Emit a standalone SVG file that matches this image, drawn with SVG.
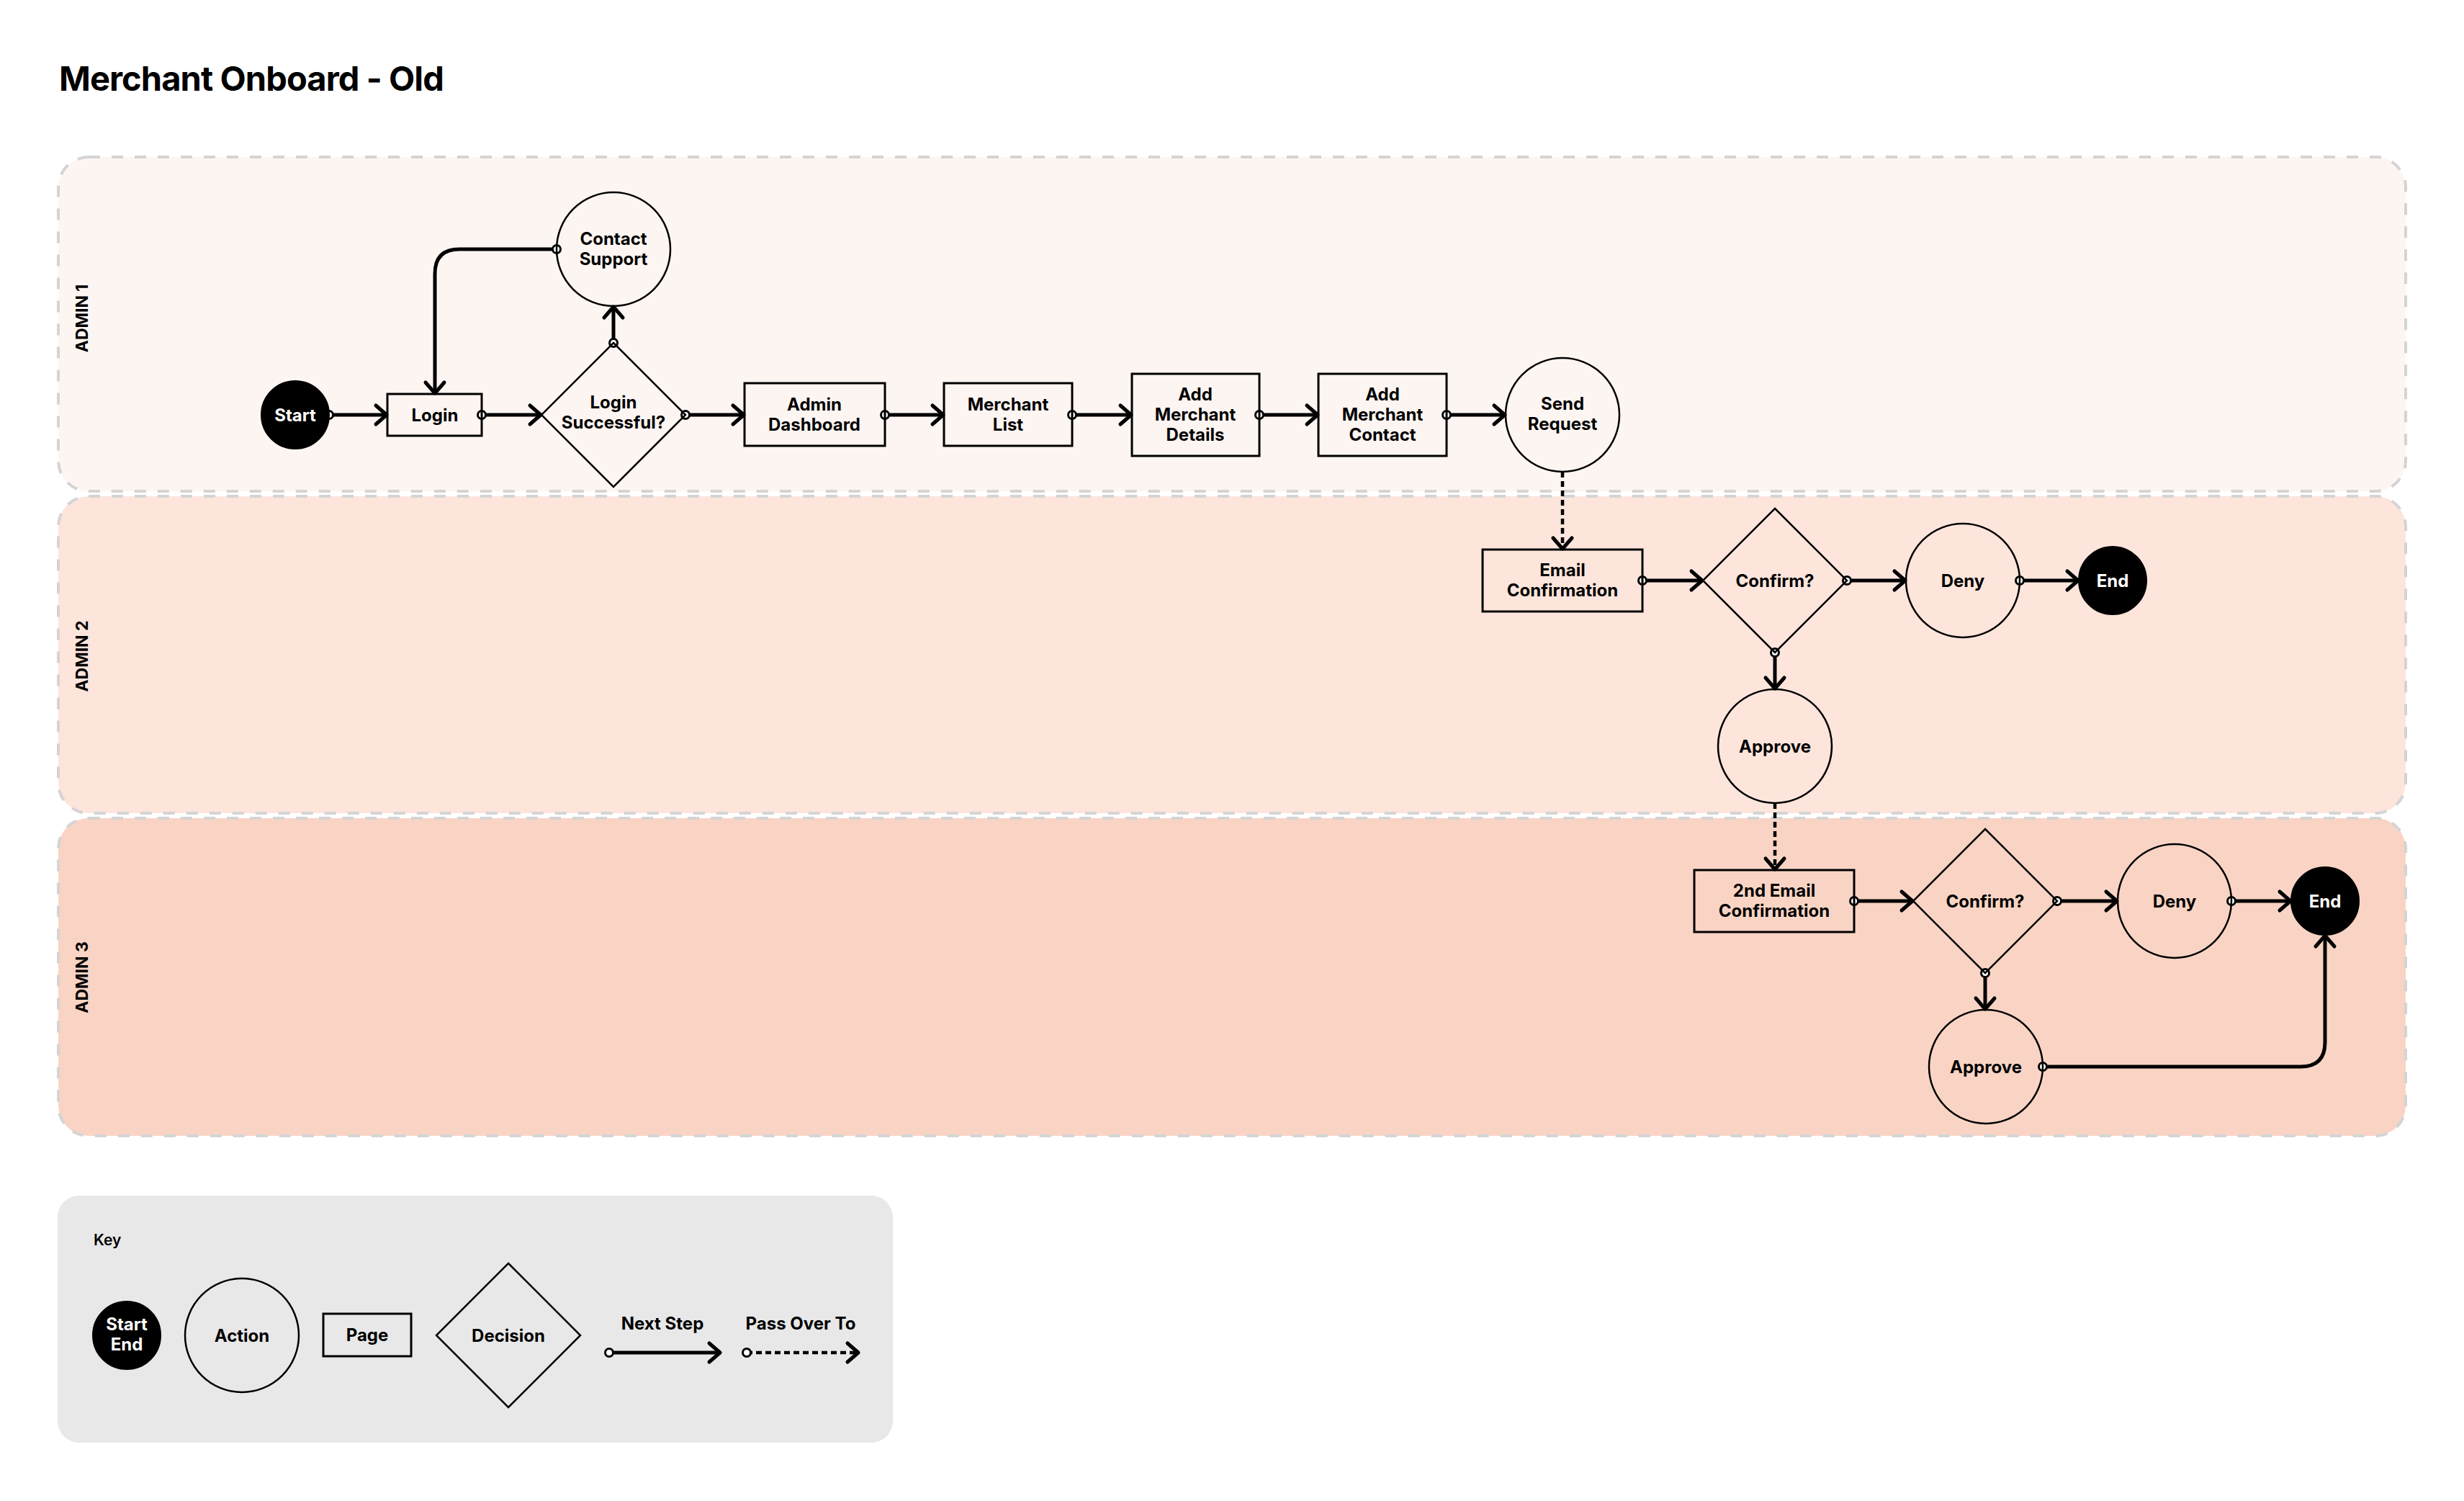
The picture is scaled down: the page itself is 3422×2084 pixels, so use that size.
<svg xmlns="http://www.w3.org/2000/svg" width="3422" height="2084" viewBox="0 0 3422 2084">
<style>
text{font-family:Inter,"Liberation Sans",sans-serif;font-weight:700;fill:#000}
.lbl{font-size:24px;text-anchor:middle}
.wl{fill:#fff}
.lane{stroke:#d4d4d4;stroke-width:4;stroke-dasharray:16 16}
.lanetxt{font-size:23px;text-anchor:middle}
.shape{fill:none;stroke:#000;stroke-width:2.5}
.page{fill:none;stroke:#000;stroke-width:3}
.term{fill:#000;stroke:#000;stroke-width:2}
.edge{fill:none;stroke:#000;stroke-width:5;marker-start:url(#dot);marker-end:url(#arr)}
.pass{fill:none;stroke:#000;stroke-width:4.5;stroke-dasharray:8 5;marker-end:url(#arr)}
.passk{fill:none;stroke:#000;stroke-width:4.5;stroke-dasharray:8 5;marker-start:url(#dot);marker-end:url(#arr)}
</style>
<defs>
<marker id="arr" markerUnits="userSpaceOnUse" viewBox="-30 -20 40 40" markerWidth="40" markerHeight="40" refX="0" refY="0" orient="auto" overflow="visible">
<polyline points="-16,-13 -1,0 -16,13" fill="none" stroke="#000" stroke-width="5" stroke-linecap="round" stroke-linejoin="round" stroke-dasharray="none"/>
</marker>
<marker id="dot" markerUnits="userSpaceOnUse" viewBox="-10 -10 20 20" markerWidth="20" markerHeight="20" refX="0" refY="0" orient="auto" overflow="visible">
<circle cx="0" cy="0" r="5.5" fill="#fff" stroke="#000" stroke-width="3" stroke-dasharray="none"/>
</marker>
</defs>
<rect width="3422" height="2084" fill="#fff"/>
<text x="82" y="126" style="font-size:47px;letter-spacing:-0.9px">Merchant Onboard - Old</text>

<g id="lanes">
<g id="lane-admin1">
<rect class="lane" x="81" y="218" width="3260" height="464" rx="42" fill="#fdf5f2"/>
<text class="lanetxt" transform="translate(122 442) rotate(-90)">ADMIN 1</text>
</g>
<g id="lane-admin2">
<rect class="lane" x="81" y="689" width="3260" height="440" rx="42" fill="#fde5dc"/>
<text class="lanetxt" transform="translate(122 911) rotate(-90)">ADMIN 2</text>
</g>
<g id="lane-admin3">
<rect class="lane" x="81" y="1136" width="3260" height="441" rx="42" fill="#f9d4c4"/>
<text class="lanetxt" transform="translate(122 1357) rotate(-90)">ADMIN 3</text>
</g>
</g>

<g id="connectors">
<path class="edge" d="M457,576 H538"/>
<path class="edge" d="M669,576 H752"/>
<path class="edge" d="M852,476 V425"/>
<path class="edge" d="M773,346 H638 Q604,346 604,380 V547"/>
<path class="edge" d="M952,576 H1034"/>
<path class="edge" d="M1229,576 H1311"/>
<path class="edge" d="M1489,576 H1572"/>
<path class="edge" d="M1749,576 H1831"/>
<path class="edge" d="M2009,576 H2091"/>
<path class="pass" d="M2170,655 V763"/>
<path class="edge" d="M2281,806 H2365"/>
<path class="edge" d="M2565,806 H2647"/>
<path class="edge" d="M2805,806 H2887"/>
<path class="edge" d="M2465,906 V957"/>
<path class="pass" d="M2465,1115 V1208"/>
<path class="edge" d="M2575,1251 H2657"/>
<path class="edge" d="M2857,1251 H2941"/>
<path class="edge" d="M3099,1251 H3182"/>
<path class="edge" d="M2757,1351 V1402"/>
<path class="edge" d="M2837,1481 H3195 Q3229,1481 3229,1447 V1298"/>
</g>

<g id="start">
<circle class="term" cx="410" cy="576" r="47"/>
<text class="lbl wl" x="410" y="585">Start</text>
</g>
<g id="login">
<rect class="page" x="538" y="547" width="131" height="58"/>
<text class="lbl" x="604" y="585">Login</text>
</g>
<g id="login-successful">
<polygon class="shape" points="852,476 952,576 852,676 752,576"/>
<text class="lbl" x="852" y="567">Login</text>
<text class="lbl" x="852" y="595">Successful?</text>
</g>
<g id="contact-support">
<circle class="shape" cx="852" cy="346" r="79"/>
<text class="lbl" x="852" y="340">Contact</text>
<text class="lbl" x="852" y="368">Support</text>
</g>
<g id="admin-dashboard">
<rect class="page" x="1034" y="532" width="195" height="87"/>
<text class="lbl" x="1131" y="570">Admin</text>
<text class="lbl" x="1131" y="598">Dashboard</text>
</g>
<g id="merchant-list">
<rect class="page" x="1311" y="532" width="178" height="87"/>
<text class="lbl" x="1400" y="570">Merchant</text>
<text class="lbl" x="1400" y="598">List</text>
</g>
<g id="add-merchant-details">
<rect class="page" x="1572" y="519" width="177" height="114"/>
<text class="lbl" x="1660" y="556">Add</text>
<text class="lbl" x="1660" y="584">Merchant</text>
<text class="lbl" x="1660" y="612">Details</text>
</g>
<g id="add-merchant-contact">
<rect class="page" x="1831" y="519" width="178" height="114"/>
<text class="lbl" x="1920" y="556">Add</text>
<text class="lbl" x="1920" y="584">Merchant</text>
<text class="lbl" x="1920" y="612">Contact</text>
</g>
<g id="send-request">
<circle class="shape" cx="2170" cy="576" r="79"/>
<text class="lbl" x="2170" y="569">Send</text>
<text class="lbl" x="2170" y="597">Request</text>
</g>
<g id="email-confirmation">
<rect class="page" x="2059" y="763" width="222" height="86"/>
<text class="lbl" x="2170" y="800">Email</text>
<text class="lbl" x="2170" y="828">Confirmation</text>
</g>
<g id="confirm-1">
<polygon class="shape" points="2465,706 2565,806 2465,906 2365,806"/>
<text class="lbl" x="2465" y="815">Confirm?</text>
</g>
<g id="deny-1">
<circle class="shape" cx="2726" cy="806" r="79"/>
<text class="lbl" x="2726" y="815">Deny</text>
</g>
<g id="end-1">
<circle class="term" cx="2934" cy="806" r="47"/>
<text class="lbl wl" x="2934" y="815">End</text>
</g>
<g id="approve-1">
<circle class="shape" cx="2465" cy="1036" r="79"/>
<text class="lbl" x="2465" y="1045">Approve</text>
</g>
<g id="email-confirmation-2">
<rect class="page" x="2353" y="1208" width="222" height="86"/>
<text class="lbl" x="2464" y="1245">2nd Email</text>
<text class="lbl" x="2464" y="1273">Confirmation</text>
</g>
<g id="confirm-2">
<polygon class="shape" points="2757,1151 2857,1251 2757,1351 2657,1251"/>
<text class="lbl" x="2757" y="1260">Confirm?</text>
</g>
<g id="deny-2">
<circle class="shape" cx="3020" cy="1251" r="79"/>
<text class="lbl" x="3020" y="1260">Deny</text>
</g>
<g id="end-2">
<circle class="term" cx="3229" cy="1251" r="47"/>
<text class="lbl wl" x="3229" y="1260">End</text>
</g>
<g id="approve-2">
<circle class="shape" cx="2758" cy="1481" r="79"/>
<text class="lbl" x="2758" y="1490">Approve</text>
</g>

<g id="key">
<rect x="80" y="1660" width="1160" height="343" rx="30" fill="#e8e8e8"/>
<text x="130" y="1729" style="font-size:21px;font-weight:600">Key</text>
<circle class="term" cx="176" cy="1854" r="47"/>
<text class="lbl wl" x="176" y="1847">Start</text>
<text class="lbl wl" x="176" y="1875">End</text>
<circle class="shape" cx="336" cy="1854" r="79"/>
<text class="lbl" x="336" y="1863">Action</text>
<rect class="page" x="449" y="1824" width="122" height="59"/>
<text class="lbl" x="510" y="1862">Page</text>
<polygon class="shape" points="706,1754 806,1854 706,1954 606,1854"/>
<text class="lbl" x="706" y="1863">Decision</text>
<text class="lbl" x="920" y="1846">Next Step</text>
<path class="edge" d="M846,1878 H1001"/>
<text class="lbl" x="1112" y="1846">Pass Over To</text>
<path class="passk" d="M1037,1878 H1193"/>
</g>
</svg>
